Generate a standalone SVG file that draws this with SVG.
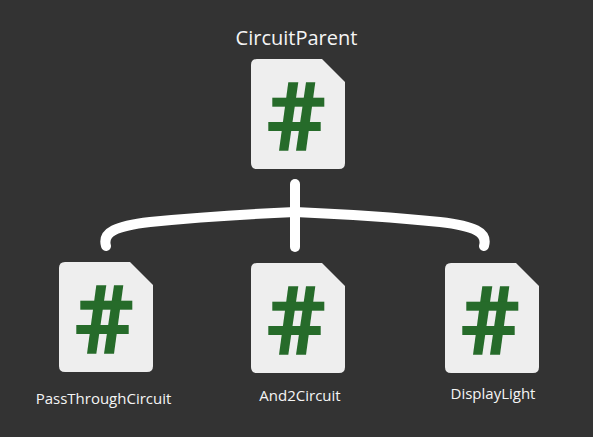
<svg xmlns="http://www.w3.org/2000/svg" width="593" height="437" viewBox="0 0 593 437">
<style>
.bg{fill:#333333}
.doc{fill:#eeeeee}
.hash{fill:#266b2a}
.wire{fill:none;stroke:#ffffff;stroke-width:10;stroke-linecap:round}
text{font-family:"Open Sans","Noto Sans","Liberation Sans",sans-serif;fill:#f5f5f5;text-anchor:middle}
</style>
<defs>
<g id="file">
<path class="doc" d="M6 0H71L94 23V104Q94 110 88 110H6Q0 110 0 104V6Q0 0 6 0Z"/>
<polygon class="hash" points="37.300,23.300 47.300,23.300 37.300,91.700 28,91.700"/>
<polygon class="hash" points="55,23.300 64.300,23.300 55,91.700 45,91.700"/>
<rect class="hash" x="21.300" y="38.700" width="52" height="9"/>
<rect class="hash" x="17.300" y="63" width="52.400" height="9"/>
</g>
</defs>
<rect class="bg" width="593" height="437"/>
<g id="connectors">
<path class="wire" d="M295 184V247"/>
<path class="wire" d="M106 246C102 232 116 226 150 222C190 218 250 214 295 212C340 214 400 218 440 222C474 226 488 232 484 246"/>
</g>
<g id="CircuitParent"><use href="#file" x="251" y="59"/><text x="296.500" y="45" font-size="20">CircuitParent</text></g>
<g id="PassThroughCircuit"><use href="#file" x="59" y="262"/><text x="103.500" y="404" font-size="15">PassThroughCircuit</text></g>
<g id="And2Circuit"><use href="#file" x="251" y="263"/><text x="300" y="401" font-size="15">And2Circuit</text></g>
<g id="DisplayLight"><use href="#file" x="445" y="263"/><text x="493" y="399" font-size="15">DisplayLight</text></g>
</svg>
